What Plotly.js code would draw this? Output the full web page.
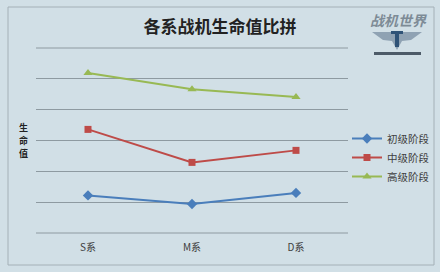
<!DOCTYPE html>
<html>
<head>
<meta charset="utf-8">
<script src="https://cdn.plot.ly/plotly-3.0.1.min.js"></script>
<style>html,body{margin:0;padding:0;background:#d1dfe6;}#chart{width:440px;height:272px;}</style>
</head>
<body>
<div id="chart"></div>
<script>
const categories = ["S系", "M系", "D系"];
const seriesNames = ["初级阶段", "中级阶段", "高级阶段"];
const beginnerValues = [1.22, 0.94, 1.30];
const intermediateValues = [3.36, 2.29, 2.68];
const advancedValues = [5.19, 4.66, 4.41];
const gridValues = [0, 1, 2, 3, 4, 5, 6];
const chartTitle = "各系战机生命值比拼";
const yAxisTitleChars = ["生", "命", "值"];
const logoText = "战机世界";

// pixel -> paper helpers (plot area 36..348 x, 233..48 y)
const L = 36, R = 348, T = 48, B = 233;
const px = x => (x - L) / (R - L);
const py = y => (B - y) / (B - T);

const fontCJK = "'Noto Sans CJK SC', 'Noto Sans', sans-serif";
const gridColor = "#8e9aa1";

const traces = [
  {x: categories, y: beginnerValues, name: seriesNames[0], type: "scatter", mode: "lines+markers",
   line: {color: "#4a7ebb", width: 2}, marker: {symbol: "diamond", size: 8, color: "#4a7ebb"}},
  {x: categories, y: intermediateValues, name: seriesNames[1], type: "scatter", mode: "lines+markers",
   line: {color: "#be4b48", width: 2}, marker: {symbol: "square", size: 7, color: "#be4b48"}},
  {x: categories, y: advancedValues, name: seriesNames[2], type: "scatter", mode: "lines+markers",
   line: {color: "#98b954", width: 2}, marker: {symbol: "triangle-up", size: 8, color: "#98b954"}}
];

function pathFrom(points) {
  return points.map((p, i) => (i === 0 ? "M" : "L") + px(p[0]) + "," + py(p[1])).join(" ") + " Z";
}

const yTitleAnnotations = yAxisTitleChars.map((ch, i) => ({
  text: ch, xref: "paper", yref: "paper", x: px(23), y: py(127 + i * 13), showarrow: false,
  font: {size: 9, color: "#222222", weight: "bold"}, xanchor: "center", yanchor: "middle", borderpad: 0
}));

// edge gridlines (Plotly omits grid lines lying on the plot boundary)
const edgeGrid = [0, 1].map(v => ({
  type: "line", xref: "paper", yref: "paper", x0: 0, x1: 1, y0: v, y1: v,
  line: {color: gridColor, width: 1}, layer: "below"
}));

const layout = {
  width: 440, height: 272,
  paper_bgcolor: "#d1dfe6", plot_bgcolor: "#d1dfe6",
  margin: {l: L, r: 440 - R, t: T, b: 272 - B, autoexpand: false},
  font: {family: fontCJK, color: "#404040", size: 10},
  title: {text: chartTitle, font: {family: fontCJK, size: 17, color: "#222222", weight: "bold"},
          x: 0.5, xref: "container", xanchor: "center", y: 1 - 27 / 272, yref: "container", yanchor: "middle"},
  xaxis: {type: "category", range: [-0.5, 2.5], showgrid: false, zeroline: false, showline: false,
          ticks: "", tickfont: {size: 10, color: "#404040"}, ticklabelstandoff: 7, fixedrange: true},
  yaxis: {range: [gridValues[0], gridValues[gridValues.length - 1]], tickvals: gridValues, showgrid: true,
          gridcolor: gridColor, gridwidth: 1,
          zeroline: false, showticklabels: false, ticks: "", showline: false, fixedrange: true},
  showlegend: true,
  legend: {x: px(347), xanchor: "left", y: py(124), yanchor: "top", bgcolor: "rgba(0,0,0,0)",
           font: {size: 10.5, color: "#404040", family: fontCJK}, itemwidth: 30, tracegroupgap: 0},
  annotations: yTitleAnnotations.concat([
    {text: "<b><i>" + logoText + "</i></b>", xref: "paper", yref: "paper", x: px(398), y: py(20), showarrow: false,
     font: {size: 14, color: "#7d8b96"}, xanchor: "center", yanchor: "middle"}
  ]),
  shapes: edgeGrid.concat([
    {type: "rect", xref: "paper", yref: "paper", x0: px(8), x1: px(434), y0: py(265), y1: py(7),
     line: {color: "#a4b0b7", width: 1}, fillcolor: "rgba(0,0,0,0)", layer: "below"},
    {type: "path", xref: "paper", yref: "paper", path: pathFrom([[372,32],[422,32],[411,40],[402,41],[397,50],[392,41],[383,40]]),
     fillcolor: "#8fa2b3", line: {width: 0}},
    {type: "path", xref: "paper", yref: "paper", path: pathFrom([[391,31],[403,31],[403,34],[399,34],[399,47],[395,47],[395,34],[391,34]]),
     fillcolor: "#2f5377", line: {width: 0}},
    {type: "rect", xref: "paper", yref: "paper", x0: px(374), x1: px(421), y0: py(55), y1: py(52),
     fillcolor: "#4d5b68", line: {width: 0}}
  ])
};

Plotly.newPlot("chart", traces, layout, {displayModeBar: false, staticPlot: true});
</script>
</body>
</html>
